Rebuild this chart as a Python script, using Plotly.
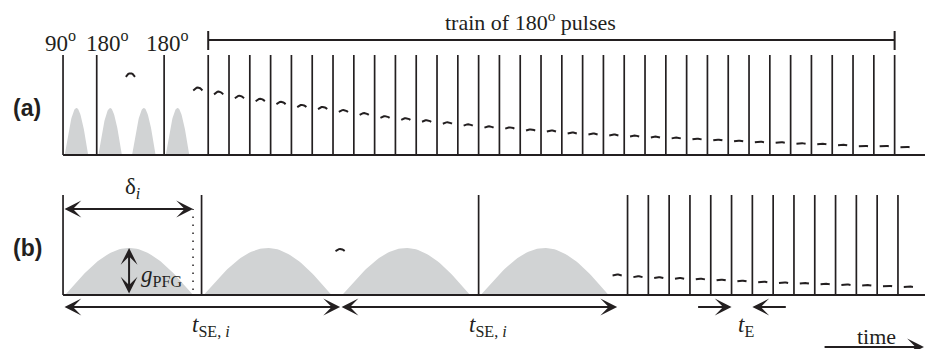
import numpy as np
import plotly.graph_objects as go

# ---------------- sequence definition (time in units of t_E) ----------------
TE = 1.0
TAU_A = 1.62            # 90-180 spacing of the spin-echo preparation in (a)
TAU_B = 6.66            # 90-180 spacing of the PFG spin-echo block in (b)
N_TRAIN_A = 34          # number of 180-degree pulses in the (a) train
N_TRAIN_B = 14          # number of 180-degree pulses in the (b) train

# echo amplitudes, as a fraction of the pulse height
echo_a_pre = [0.80, 0.66]
echo_a_train = [0.62, 0.58, 0.55, 0.52, 0.49, 0.47, 0.44, 0.41, 0.38, 0.36,
                0.34, 0.32, 0.30, 0.28, 0.27, 0.25, 0.24, 0.22, 0.21, 0.20,
                0.19, 0.18, 0.17, 0.16, 0.15, 0.14, 0.13, 0.125, 0.115, 0.11,
                0.10, 0.09, 0.09, 0.08]
echo_b_pre = [0.45, 0.20]
echo_b_train = [0.183, 0.173, 0.167, 0.16, 0.15, 0.14, 0.13, 0.123, 0.117,
                0.11, 0.103, 0.097, 0.09, 0.083]

# gradient lobes: delay after each pulse/echo, duration, peak amplitude
LOBE_A = dict(delay=0.08, width=1.13)
LOBE_B = dict(delay=0.10, width=6.15)
G_PFG = 0.47

pulse_labels = ["90<sup>o</sup>", "180<sup>o</sup>", "180<sup>o</sup>"]

INK = "#231f20"
GREY = "#d1d3d4"
SERIF = "Liberation Serif, Times New Roman, serif"
SANS = "Liberation Sans, Arial, sans-serif"


def sequence(tau, n_train):
    pulses = [0.0, tau, 3 * tau]
    train = [4 * tau + TE / 2 + k * TE for k in range(n_train)]
    echoes = [2 * tau, 4 * tau] + [4 * tau + (k + 1) * TE for k in range(n_train)]
    lobes = [n * tau for n in range(4)]
    return pulses, train, echoes, lobes


pa, ta, ea, la = sequence(TAU_A, N_TRAIN_A)
pb, tb, eb, lb = sequence(TAU_B, N_TRAIN_B)
amp_a = echo_a_pre + echo_a_train
amp_b = echo_b_pre + echo_b_train

X_RANGE = [-3.03, 41.44]
Y_A = [-1.94, 1.55]
Y_B = [-0.54, 2.95]

fig = go.Figure()


def lobe_path(starts, delay, width):
    xs, ys = [], []
    u = np.linspace(0, 1, 60)
    for s in starts:
        x0 = s + delay
        xs += list(x0 + u * width) + [None]
        ys += list(G_PFG * np.sin(np.pi * u)) + [None]
    return xs, ys


def vlines(ts, y0, y1):
    xs, ys = [], []
    for t in ts:
        xs += [t, t, None]
        ys += [y0, y1, None]
    return xs, ys


def echo_marks(ts, amps):
    xs, ys = [], []
    u = np.linspace(-1, 1, 9)
    for t, a in zip(ts, amps):
        h = 0.045 * a
        xs += list(t + 0.22 * u) + [None]
        ys += list(a - h / 2 + h * (1 - u ** 2)) + [None]
    return xs, ys


for yax, starts, lobe in (("y", la, LOBE_A), ("y2", lb, LOBE_B)):
    xs, ys = lobe_path(starts, lobe["delay"], lobe["width"])
    fig.add_trace(go.Scatter(x=xs, y=ys, yaxis=yax, mode="lines", fill="toself",
                             fillcolor=GREY, line=dict(width=0), hoverinfo="skip"))

for yax, pulses, train, echoes, amps in (("y", pa, ta, ea, amp_a), ("y2", pb, tb, eb, amp_b)):
    # baseline
    fig.add_trace(go.Scatter(x=[0, X_RANGE[1]], y=[0, 0], yaxis=yax, mode="lines",
                             line=dict(color=INK, width=2), hoverinfo="skip"))
    xs, ys = vlines(pulses + train, 0, 1.0)
    fig.add_trace(go.Scatter(x=xs, y=ys, yaxis=yax, mode="lines",
                             line=dict(color=INK, width=1.7), hoverinfo="skip"))
    xs, ys = echo_marks(echoes, amps)
    fig.add_trace(go.Scatter(x=xs, y=ys, yaxis=yax, mode="lines",
                             line=dict(color=INK, width=2), hoverinfo="skip"))

# dotted marker at the end of the first gradient lobe in (b)
delta_end = LOBE_B["delay"] + LOBE_B["width"]
fig.add_trace(go.Scatter(x=[delta_end, delta_end], y=[0.05, 0.86], yaxis="y2", mode="lines",
                         line=dict(color=INK, width=1.5, dash="1.5px,6.5px"), hoverinfo="skip"))

# bracket over the train of 180-degree pulses
br_y, br_lo, br_hi = 1.15, 1.05, 1.24
fig.add_trace(go.Scatter(
    x=[ta[0], ta[-1], None, ta[0], ta[0], None, ta[-1], ta[-1]],
    y=[br_y, br_y, None, br_lo, br_hi, None, br_lo, br_hi],
    yaxis="y", mode="lines", line=dict(color=INK, width=2), hoverinfo="skip"))

ann = []


def arrow(x0, y0, x1, y1, yref, both=False):
    d = dict(x=x1, y=y1, ax=x0, ay=y0, xref="x", yref=yref, axref="x", ayref=yref,
             text="", showarrow=True, arrowhead=3, arrowsize=1.4, arrowwidth=2,
             arrowcolor=INK, standoff=0, startstandoff=0)
    if both:
        d.update(arrowside="end+start", startarrowhead=3, startarrowsize=1.4)
    return d


def label(x, y, text, yref, size=22, family=SERIF, xanchor="center", color=INK):
    return dict(x=x, y=y, xref="x", yref=yref, text=text, showarrow=False,
                xanchor=xanchor, yanchor="middle",
                font=dict(family=family, size=size, color=color))


# row labels
ann.append(label(-1.73, 0.47, "<b>(a)</b>", "y", size=23, family=SANS))
ann.append(label(-1.73, 0.47, "<b>(b)</b>", "y2", size=23, family=SANS))

# flip-angle labels
for t, txt, dx in zip(pa, pulse_labels, (-0.12, 0.52, 0.17)):
    ann.append(label(t + dx, 1.14, txt, "y", size=23))
ann.append(label(22.45, 1.34, "train of 180<sup>o</sup> pulses", "y", size=22))

# delta_i and g_PFG
ann.append(arrow(0, 0.86, delta_end, 0.86, "y2", both=True))
ann.append(label(3.32, 1.07, "\u03b4<sub><i>i</i></sub>", "y2", size=23))
g_x = LOBE_B["delay"] + LOBE_B["width"] / 2
ann.append(arrow(g_x, 0.0, g_x, G_PFG, "y2", both=True))
ann.append(label(3.65, 0.19, "<i>g</i><sub>PFG</sub>", "y2", size=23, xanchor="left"))

# spin-echo times
ann.append(arrow(0, -0.12, 2 * TAU_B, -0.12, "y2", both=True))
ann.append(arrow(2 * TAU_B, -0.12, 4 * TAU_B, -0.12, "y2", both=True))
for x in (TAU_B, 3 * TAU_B):
    ann.append(label(x + 0.45, -0.31, "<i>t</i><sub>SE, <i>i</i></sub>", "y2", size=23))

# echo spacing
ta_l, ta_r = tb[5], tb[6]
ann.append(arrow(ta_l - 1.68, -0.12, ta_l, -0.12, "y2"))
ann.append(arrow(ta_r + 1.68, -0.12, ta_r, -0.12, "y2"))
ann.append(label((ta_l + ta_r) / 2 + 0.2, -0.31, "<i>t</i><sub>E</sub>", "y2", size=23))

# time axis arrow
ann.append(arrow(36.54, -0.52, 41.39, -0.52, "y2"))
ann.append(label(39.13, -0.41, "time", "y2", size=22))

axis_off = dict(visible=False, showgrid=False, zeroline=False, fixedrange=True)
fig.update_layout(
    width=925, height=349,
    margin=dict(l=0, r=0, t=0, b=0),
    paper_bgcolor="white", plot_bgcolor="white",
    showlegend=False,
    xaxis=dict(range=X_RANGE, **axis_off),
    yaxis=dict(range=Y_A, domain=[0, 1], **axis_off),
    yaxis2=dict(range=Y_B, domain=[0, 1], overlaying="y", **axis_off),
    annotations=ann,
)

fig.write_html("out.html")
